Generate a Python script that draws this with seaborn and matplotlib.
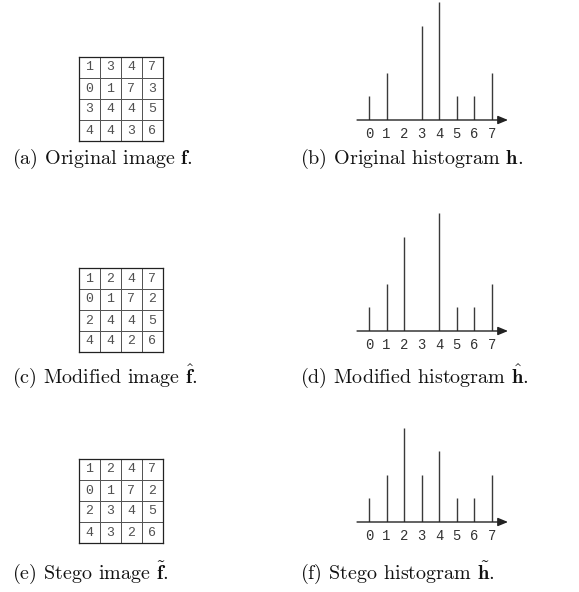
import numpy as np
import pandas as pd
import matplotlib
matplotlib.use("Agg")
import matplotlib.pyplot as plt
from matplotlib.colors import ListedColormap
import seaborn as sns

sns.set_style("white")
plt.rcParams['mathtext.fontset'] = 'cm'
plt.rcParams['font.family'] = ['cmr10', 'DejaVu Serif']
plt.rcParams['axes.formatter.use_mathtext'] = True

# ---- data ----
original_image = [[1, 3, 4, 7], [0, 1, 7, 3], [3, 4, 4, 5], [4, 4, 3, 6]]
modified_image = [[1, 2, 4, 7], [0, 1, 7, 2], [2, 4, 4, 5], [4, 4, 2, 6]]
stego_image = [[1, 2, 4, 7], [0, 1, 7, 2], [2, 3, 4, 5], [4, 3, 2, 6]]
bins = [0, 1, 2, 3, 4, 5, 6, 7]
tick_labels = ["0", "1", "2", "3", "4", "5", "6", "7"]
original_hist = [1, 2, 0, 4, 5, 1, 1, 2]
modified_hist = [1, 2, 4, 0, 5, 1, 1, 2]
stego_hist = [1, 2, 4, 2, 3, 1, 1, 2]
image_captions = [r"(a) Original image $\mathbf{f}$.",
                  r"(c) Modified image $\hat{\mathbf{f}}$.",
                  r"(e) Stego image $\tilde{\mathbf{f}}$."]
hist_captions = [r"(b) Original histogram $\mathbf{h}$.",
                 r"(d) Modified histogram $\hat{\mathbf{h}}$.",
                 r"(f) Stego histogram $\tilde{\mathbf{h}}$."]

W, H = 579, 592
fig = plt.figure(figsize=(W / 100, H / 100), dpi=100)


def px_axes(left, top, width, height):
    return fig.add_axes([left / W, 1 - (top + height) / H, width / W, height / H])


grid_tops = [57, 268, 459]
baselines = [120, 331, 522]
caption_y = [159, 376, 573]
images = [original_image, modified_image, stego_image]
hists = [original_hist, modified_hist, stego_hist]

for r in range(3):
    # image grid
    ax = px_axes(79, grid_tops[r], 84, 84)
    df = pd.DataFrame(images[r])
    sns.heatmap(df, ax=ax, annot=True, fmt="d", cbar=False,
                cmap=ListedColormap(["white"]), linewidths=0.6, linecolor="#555555",
                annot_kws=dict(fontsize=9.5, color="#505050", family="Liberation Mono"))
    ax.set_xticks([]); ax.set_yticks([])
    ax.set_xlabel(""); ax.set_ylabel("")
    for s in ax.spines.values():
        s.set_visible(True)
        s.set_color("#222222")
        s.set_linewidth(0.9)

    # histogram
    ppu_x, ppu_y = 17.57, 23.6
    x0, x1 = -1.0, 8.5
    y1 = 5.3
    left = 369 - (0 - x0) * ppu_x
    axh = px_axes(left, baselines[r] - y1 * ppu_y, (x1 - x0) * ppu_x, y1 * ppu_y)
    axh.set_xlim(x0, x1)
    axh.set_ylim(0, y1)
    axh.vlines(bins, 0, hists[r], color="#3a3a3a", lw=1.0)
    axh.annotate("", xy=(7.91, 0), xytext=(-0.68, 0),
                 arrowprops=dict(arrowstyle="-|>,head_length=0.6,head_width=0.25",
                                 color="#222222", lw=1.0, shrinkA=0, shrinkB=0))
    axh.set_xticks(bins)
    axh.set_xticklabels(tick_labels, family="Liberation Mono", fontsize=10, color="#333333")
    axh.tick_params(axis="x", length=0, pad=5)
    axh.set_yticks([])
    for s in axh.spines.values():
        s.set_visible(False)
    axh.patch.set_alpha(0)

    fig.text(12 / W, 1 - caption_y[r] / H, image_captions[r], fontsize=14.5,
             ha="left", va="center", color="#111111")
    fig.text(300 / W, 1 - caption_y[r] / H, hist_captions[r], fontsize=14.5,
             ha="left", va="center", color="#111111")

fig.savefig("out.png", dpi=100)
